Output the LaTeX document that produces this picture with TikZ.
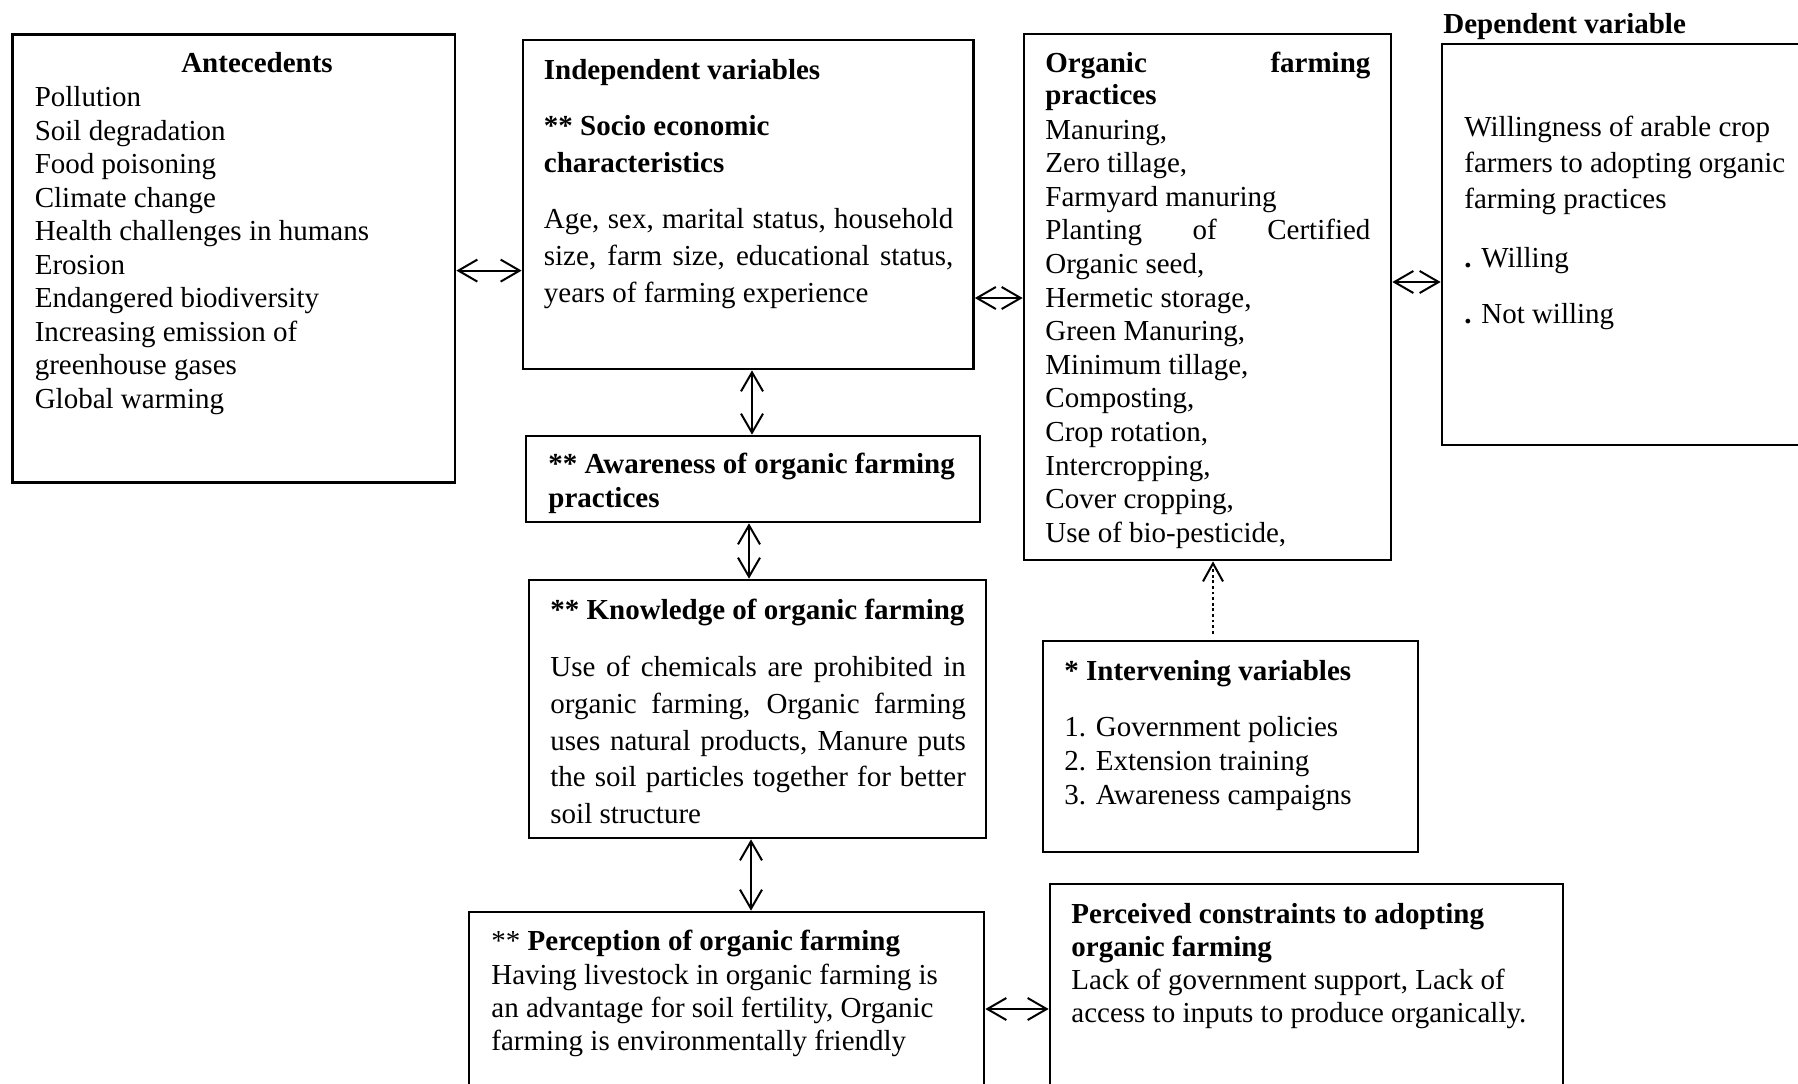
\documentclass[tikz,border=0pt]{standalone}
\usepackage{fontspec}
\setmainfont{Liberation Serif}
\usetikzlibrary{arrows.meta,fit}
\newcommand\jline[2]{\hbox to #1{#2}}
\newcommand\fsz[1]{\fontsize{14.5}{#1}\selectfont}
\begin{document}
\begin{tikzpicture}[x=0.5pt,y=-0.5pt,
  box/.style={draw, line width=1.35pt, inner sep=0pt},
  txt/.style={inner sep=0pt, anchor=base west, align=left},
  conn/.style={line width=1pt, {Straight Barb[length=9.5pt,width=11pt,line width=1pt]}-{Straight Barb[length=9.5pt,width=11pt,line width=1pt]}},
  dotconn/.style={line width=1.1pt, dash pattern=on 1.4pt off 1.4pt, -{Straight Barb[length=9pt,width=10pt,line width=1pt]}}]
\useasboundingbox (0,0) rectangle (1798,1083);
\fill[white] (0,0) rectangle (1798,1083);

% boxes
\node[box, fit={(12.6,34.4) (455,482.6)}] (ante) {};
\node[box, fit={(523,40) (973.5,369)}] (indep) {};
\node[box, fit={(526,436) (980,522)}] (aware) {};
\node[box, fit={(529,580) (986,838)}] (know) {};
\node[box, fit={(469,912) (984,1100)}] (perc) {};
\node[box, fit={(1024,34) (1391,560)}] (orgp) {};
\node[box, fit={(1442,44) (1810,445)}] (dep) {};
\node[box, fit={(1043,641) (1418,852)}] (interv) {};
\node[box, fit={(1050,884) (1563,1100)}] (cons) {};

% Texts: multi-line nodes are placed by the baseline of their LAST line
\begin{scope}[shift={(0,2.5)}]
% Antecedents
\node[inner sep=0pt, anchor=base, font=\fsz{16.75}\bfseries] (anteH) at (257,70) {Antecedents};
\node[txt, font=\fsz{16.75}] (anteB) at (34.4,405.5) {Pollution\\Soil degradation\\Food poisoning\\Climate change\\Health challenges in humans\\Erosion\\Endangered biodiversity\\Increasing emission of\\greenhouse gases\\Global warming};

% Independent variables
\node[txt, font=\fsz{18.5}\bfseries] (indepH) at (543.5,77) {Independent variables};
\node[txt, font=\fsz{18.5}\bfseries] (indepS) at (543.5,170) {** Socio economic\\characteristics};
\node[txt, font=\fsz{18.5}] (indepB) at (543.5,300) {\jline{204.75pt}{Age, sex, marital status, household}\\\jline{204.75pt}{size, farm size, educational status,}\\years of farming experience};

% Awareness
\node[txt, font=\fsz{17}\bfseries] (awareT) at (548,505) {** Awareness of organic farming\\practices};

% Knowledge
\node[txt, font=\fsz{18.4}\bfseries] (knowH) at (550,617) {** Knowledge of organic farming};
\node[txt, font=\fsz{18.4}] (knowB) at (550,821.2) {\jline{207.75pt}{Use of chemicals are prohibited in}\\\jline{207.75pt}{organic farming, Organic farming}\\\jline{207.75pt}{uses natural products, Manure puts}\\\jline{207.75pt}{the soil particles together for better}\\soil structure};

% Perception
\node[txt, font=\fsz{16.65}] (percH) at (491,948) {** \textbf{Perception of organic farming}};
\node[txt, font=\fsz{16.65}] (percB) at (491,1048.1) {Having livestock in organic farming is\\an advantage for soil fertility, Organic\\farming is environmentally friendly};

% Organic farming practices
\node[txt, font=\fsz{16}\bfseries] (orgpH) at (1045,102) {\jline{162.5pt}{Organic\hfill farming}\\practices};
\node[txt, font=\fsz{16.8}] (orgpB) at (1045,539.7) {Manuring,\\Zero tillage,\\Farmyard manuring\\\jline{162.5pt}{Planting\hfill of\hfill Certified}\\Organic seed,\\Hermetic storage,\\Green Manuring,\\Minimum tillage,\\Composting,\\Crop rotation,\\Intercropping,\\Cover cropping,\\Use of bio-pesticide,};

% Dependent variable
\node[txt, font=\fsz{16.75}\bfseries] (depL) at (1443,31) {Dependent variable};
\node[txt, font=\fsz{18}] (depB) at (1464,206) {Willingness of arable crop\\farmers to adopting organic\\farming practices};
\node[txt, font=\fsz{18}] (depW) at (1464,265) {\textbf{.} Willing};
\node[txt, font=\fsz{18}] (depN) at (1464,321) {\textbf{.} Not willing};

% Intervening
\node[txt, font=\fsz{16.9}\bfseries] (intervH) at (1064,678) {* Intervening variables};
\node[txt, font=\fsz{16.9}] (intervB) at (1064,801.6) {1. Government policies\\2. Extension training\\3. Awareness campaigns};

% Constraints
\node[txt, font=\fsz{16.5}\bfseries] (consH) at (1071,954) {Perceived constraints to adopting\\organic farming};
\node[txt, font=\fsz{16.5}] (consB) at (1071,1020) {Lack of government support, Lack of\\access to inputs to produce organically.};
\end{scope}

% connector guide coordinates
\coordinate (yA) at (0,270.6);
\coordinate (yB) at (0,298);
\coordinate (yC) at (0,282);
\coordinate (yD) at (0,1009);
\coordinate (xA) at (752,0);
\coordinate (xB) at (749,0);
\coordinate (xC) at (751,0);
\coordinate (xD) at (1213,0);

\draw[conn] (ante.east |- yA) -- (indep.west |- yA);
\draw[conn] (indep.east |- yB) -- (orgp.west |- yB);
\draw[conn] (orgp.east |- yC) -- (dep.west |- yC);
\draw[conn] (indep.south -| xA) -- (aware.north -| xA);
\draw[conn] (aware.south -| xB) -- (know.north -| xB);
\draw[conn] (know.south -| xC) -- (perc.north -| xC);
\draw[conn] (perc.east |- yD) -- (cons.west |- yD);
\draw[dotconn, shorten <=3pt] (interv.north -| xD) -- (orgp.south -| xD);
\end{tikzpicture}
\end{document}
